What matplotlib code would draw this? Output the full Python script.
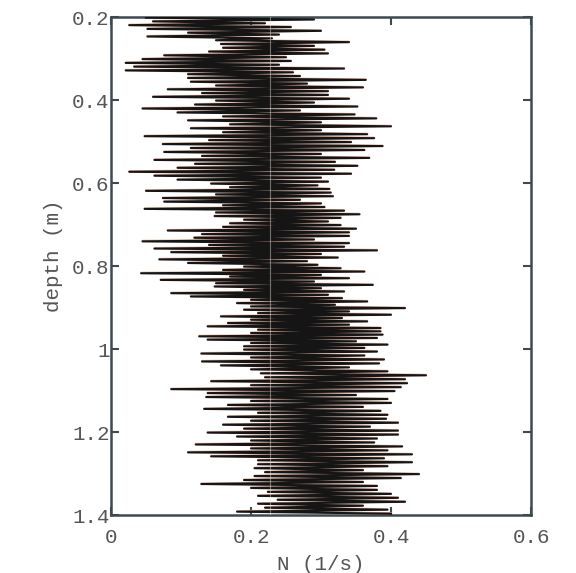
import matplotlib
matplotlib.use('Agg')
import matplotlib.pyplot as plt
import numpy as np

band_02_04 = [0.050, 0.290, 0.060, 0.220, 0.026, 0.257, 0.052, 0.300, 0.110, 0.240,
              0.052, 0.230, 0.150, 0.340, 0.157, 0.290, 0.160, 0.305, 0.140, 0.310,
              0.076, 0.250, 0.045, 0.257, 0.021, 0.240, 0.033, 0.333, 0.021, 0.260,
              0.110, 0.270, 0.110, 0.364, 0.114, 0.280, 0.150, 0.360, 0.081, 0.310,
              0.130, 0.310, 0.060, 0.340]
band_04_06 = [0.150, 0.290, 0.120, 0.352, 0.045, 0.270, 0.095, 0.348, 0.160, 0.379,
              0.110, 0.300, 0.170, 0.400, 0.114, 0.300, 0.160, 0.366, 0.048, 0.376,
              0.140, 0.343, 0.074, 0.388, 0.114, 0.362, 0.076, 0.300, 0.130, 0.369,
              0.062, 0.320, 0.120, 0.352, 0.095, 0.319, 0.026, 0.343, 0.062, 0.300,
              0.095, 0.310]
band_06_08 = [0.143, 0.295, 0.170, 0.312, 0.050, 0.314, 0.150, 0.317, 0.074, 0.270,
              0.076, 0.300, 0.160, 0.305, 0.048, 0.333, 0.150, 0.355, 0.148, 0.328,
              0.190, 0.310, 0.170, 0.328, 0.160, 0.350, 0.081, 0.340, 0.130, 0.340,
              0.119, 0.290, 0.045, 0.340, 0.140, 0.333, 0.062, 0.380, 0.086, 0.300,
              0.160, 0.324, 0.069, 0.280, 0.110, 0.295]
band_08_10 = [0.190, 0.328, 0.160, 0.362, 0.043, 0.300, 0.170, 0.340, 0.071, 0.290,
              0.150, 0.374, 0.148, 0.300, 0.190, 0.333, 0.086, 0.310, 0.114, 0.330,
              0.200, 0.366, 0.180, 0.320, 0.200, 0.420, 0.190, 0.340, 0.210, 0.400,
              0.157, 0.330, 0.200, 0.366, 0.167, 0.340, 0.138, 0.385, 0.210, 0.385,
              0.200, 0.388, 0.126, 0.380, 0.138, 0.350, 0.200, 0.395, 0.190, 0.362]
band_10_12 = [0.190, 0.380, 0.129, 0.362, 0.200, 0.390, 0.130, 0.383, 0.157, 0.340,
              0.200, 0.395, 0.214, 0.450, 0.220, 0.420, 0.143, 0.423, 0.200, 0.414,
              0.086, 0.405, 0.138, 0.350, 0.136, 0.395, 0.200, 0.400, 0.167, 0.360,
              0.133, 0.385, 0.210, 0.395, 0.167, 0.393, 0.200, 0.410, 0.160, 0.370,
              0.190, 0.410]
band_12_14 = [0.138, 0.410, 0.180, 0.380, 0.200, 0.376, 0.121, 0.416, 0.200, 0.395,
              0.110, 0.430, 0.143, 0.390, 0.210, 0.430, 0.210, 0.395, 0.205, 0.360,
              0.220, 0.440, 0.205, 0.414, 0.190, 0.360, 0.129, 0.380, 0.200, 0.380,
              0.224, 0.400, 0.210, 0.410, 0.238, 0.420, 0.210, 0.360, 0.220, 0.395,
              0.180, 0.400]
bands = [band_02_04, band_04_06, band_06_08, band_08_10, band_10_12, band_12_14]
band_edges = [0.2, 0.4, 0.6, 0.8, 1.0, 1.2, 1.4]
mean_n = 0.227

xticks = [0, 0.2, 0.4, 0.6]
xticklabels = ['0', '0.2', '0.4', '0.6']
yticks = [0.2, 0.4, 0.6, 0.8, 1.0, 1.2, 1.4]
yticklabels = ['0.2', '0.4', '0.6', '0.8', '1', '1.2', '1.4']

# depth of each sample: evenly spaced inside its band
depth, n = [], []
for b, vals in enumerate(bands):
    z = np.linspace(band_edges[b], band_edges[b + 1], len(vals), endpoint=False)
    depth.extend(z)
    n.extend(vals)
depth = np.array(depth)
n = np.array(n)

txt = '#555555'
plt.rcParams['font.family'] = ['Liberation Mono', 'DejaVu Sans Mono']
fig = plt.figure(figsize=(5.76, 5.73), dpi=100)
ax = fig.add_axes([0.1927, 0.1012, 0.7292, 0.8691])

ax.plot(n, depth, color='#f2b49c', lw=1.4, zorder=2)
ax.plot(n, depth + 0.0015, color='#151515', lw=1.5, zorder=3)
ax.axvline(mean_n, color='#f3e4da', lw=0.8, alpha=0.45, zorder=4)

ax.set_xlim(0, 0.6)
ax.set_ylim(1.4, 0.2)
ax.set_xticks(xticks)
ax.set_xticklabels(xticklabels)
ax.set_yticks(yticks)
ax.set_yticklabels(yticklabels)
ax.tick_params(direction='in', top=True, right=True, length=6, width=1.5,
               colors='#3d4a50', labelcolor=txt, labelsize=15)
ax.tick_params(axis='x', pad=9)
ax.tick_params(axis='y', pad=1)
for s in ax.spines.values():
    s.set_color('#3d4a50')
    s.set_linewidth(1.8)

ax.set_xlabel('N (1/s)', fontsize=15, color=txt, labelpad=6)
ax.set_ylabel('depth (m)', fontsize=15, color=txt, labelpad=9)
ax.yaxis.set_label_coords(-0.115, 0.52)

fig.savefig('out.png', dpi=100)
